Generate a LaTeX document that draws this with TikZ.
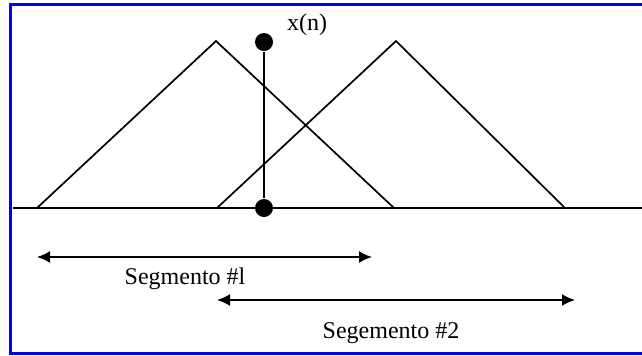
\documentclass[tikz,border=0pt]{standalone}
\usepackage{fontspec}
\setmainfont{Liberation Serif}
\usetikzlibrary{arrows.meta}

\begin{document}
\begin{tikzpicture}[x=0.5pt, y=-0.5pt, line width=0.85pt, every node/.style={font=\fontsize{12}{14}\selectfont}]
\tikzstyle{dot}=[circle, fill=black, inner sep=0pt, minimum size=9pt]
\tikzstyle{span}=[{Latex[length=6.5pt,width=6pt]}-{Latex[length=6.5pt,width=6pt]}]
\useasboundingbox (0,0) rectangle (642,355);
\draw[blue, line width=1.5pt] (10.8,4.5) rectangle (670,353.8);
% window triangles
\coordinate (w1l) at (37,208);
\coordinate (w1p) at (216,41);
\coordinate (w1r) at (394,208);
\coordinate (w2l) at (217,208);
\coordinate (w2p) at (396,41);
\coordinate (w2r) at (565,208);
\coordinate (axl) at (13,208);
\coordinate (axr) at (660,208);
\draw (axl) -- (axr);
\draw (w1l) -- (w1p) -- (w1r);
\draw (w2l) -- (w2p) -- (w2r);
% sample x(n)
\node[dot] (xtop) at (264,42) {};
\node[dot] (xbot) at (264,208) {};
\draw (xtop) -- (xbot);
\node (xlab) at (307,25) {x(n)};
% segments
\coordinate (s1l) at (37,257);
\coordinate (s1r) at (372,257);
\coordinate (s2l) at (217,300);
\coordinate (s2r) at (575,300);
\draw[span] (s1l) -- (s1r);
\draw[span] (s2l) -- (s2r);
\node (seg1) at (185,279) {Segmento \#l};
\node (seg2) at (391,333) {Segemento \#2};
\end{tikzpicture}
\end{document}
